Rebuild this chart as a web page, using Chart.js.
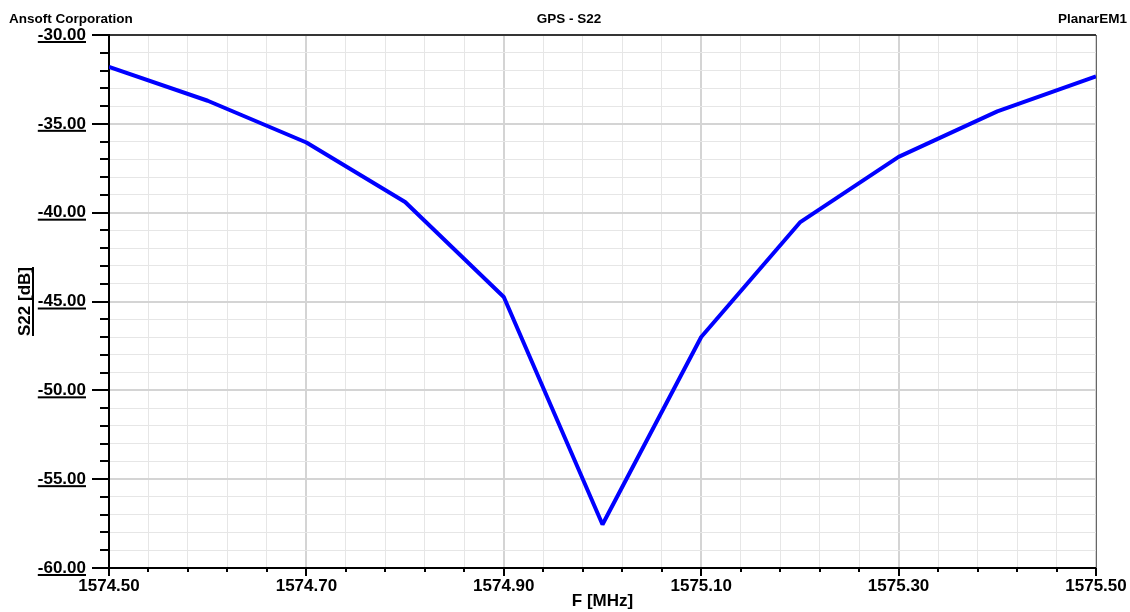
<!DOCTYPE html>
<html>
<head>
<meta charset="utf-8">
<script src="https://cdn.jsdelivr.net/npm/chart.js@4.4.1/dist/chart.umd.min.js"></script>
<style>
  html, body { margin: 0; padding: 0; background: #fff; }
  #wrap { width: 1130px; height: 612px; }
</style>
</head>
<body>
<div id="wrap"><canvas id="s22Chart" width="1130" height="612"></canvas></div>
<script>
// datos
const freqs = [1574.5, 1574.6, 1574.7, 1574.8, 1574.9, 1575.0, 1575.1, 1575.2, 1575.3, 1575.4, 1575.5];
const s22 = [-31.80, -33.70, -36.05, -39.40, -44.75, -57.55, -47.00, -40.55, -36.86, -34.30, -32.33];
const xTickLabels = ['1574.50', '1574.70', '1574.90', '1575.10', '1575.30', '1575.50'];
const yTickLabels = ['-60.00', '-55.00', '-50.00', '-45.00', '-40.00', '-35.00', '-30.00'];
const headerLeft = 'Ansoft Corporation';
const headerTitle = 'GPS - S22';
const headerRight = 'PlanarEM1';

const FONT = '"Liberation Sans", Arial, sans-serif';

// cabecera, bordes, marcas y subrayados
const frame = {
    id: 'frame',
    afterDraw(chart) {
        const { ctx, chartArea: a, scales: { x, y } } = chart;
        ctx.save();

        ctx.fillStyle = '#000';
        ctx.font = 'bold 13.5px ' + FONT;
        ctx.textBaseline = 'alphabetic';
        ctx.textAlign = 'left';
        ctx.fillText(headerLeft, 9, 22.5);
        ctx.textAlign = 'center';
        ctx.fillText(headerTitle, 569, 22.5);
        ctx.textAlign = 'right';
        ctx.fillText(headerRight, 1127, 22.5);

        // borde superior y derecho
        ctx.strokeStyle = '#000';
        ctx.lineWidth = 1.5;
        ctx.beginPath();
        ctx.moveTo(a.left - 17, a.top);
        ctx.lineTo(a.right, a.top);
        ctx.stroke();
        ctx.strokeStyle = '#666';
        ctx.lineWidth = 1;
        ctx.beginPath();
        ctx.moveTo(a.right + 0.5, a.top);
        ctx.lineTo(a.right + 0.5, a.bottom);
        ctx.stroke();

        // marcas eje Y
        ctx.strokeStyle = '#000';
        ctx.lineWidth = 2;
        y.ticks.forEach((t, i) => {
            const py = Math.round(y.getPixelForValue(t.value));
            const len = i % 5 === 0 ? 17 : 9;
            ctx.beginPath();
            ctx.moveTo(a.left - len, py);
            ctx.lineTo(a.left, py);
            ctx.stroke();
        });
        // marcas eje X
        x.ticks.forEach((t, i) => {
            const px = Math.round(x.getPixelForValue(t.value));
            const len = i % 5 === 0 ? 8 : 4;
            ctx.beginPath();
            ctx.moveTo(px, a.bottom);
            ctx.lineTo(px, a.bottom + len);
            ctx.stroke();
        });

        // subrayado de etiquetas Y
        ctx.font = 'bold 17px ' + FONT;
        const rightX = a.left - 23;
        y.ticks.forEach((t, i) => {
            if (i % 5 !== 0) return;
            const w = ctx.measureText(yTickLabels[i / 5]).width;
            const py = y.getPixelForValue(t.value);
            ctx.fillRect(rightX - w, py + 6, w, 2);
        });
        // subrayado del titulo Y
        const tw = ctx.measureText(y.options.title.text).width;
        const cy = (a.top + a.bottom) / 2;
        ctx.fillRect(32, cy - tw / 2, 2, tw);

        ctx.restore();
    }
};

const ctx = document.getElementById('s22Chart').getContext('2d');
new Chart(ctx, {
    type: 'line',
    data: {
        datasets: [{
            label: 'S22',
            data: freqs.map((f, i) => ({ x: f, y: s22[i] })),
            borderColor: '#0000ff',
            borderWidth: 4,
            borderJoinStyle: 'bevel',
            pointRadius: 0,
            tension: 0,
            fill: false
        }]
    },
    options: {
        responsive: false,
        animation: false,
        devicePixelRatio: 1,
        layout: { padding: { top: 35, right: 34, left: 0, bottom: 0 } },
        plugins: {
            legend: { display: false },
            tooltip: { enabled: false }
        },
        scales: {
            x: {
                type: 'linear',
                min: 1574.5,
                max: 1575.5,
                afterFit: (s) => { s.height = 44; s.paddingLeft = 0; s.paddingRight = 0; },
                border: { color: '#000', width: 2 },
                grid: {
                    drawTicks: false,
                    color: (c) => c.index % 5 === 0 ? '#d4d4d4' : '#e6e6e6',
                    lineWidth: (c) => c.index % 5 === 0 ? 2 : 1
                },
                ticks: {
                    stepSize: 0.04,
                    maxTicksLimit: 100,
                    autoSkip: false,
                    maxRotation: 0,
                    padding: 8,
                    color: '#000',
                    font: { family: FONT, size: 17, weight: 'bold' },
                    callback: (v, i) => i % 5 === 0 ? xTickLabels[i / 5] : ''
                },
                title: {
                    display: true,
                    text: 'F [MHz]',
                    color: '#000',
                    padding: { top: 0, bottom: 0 },
                    font: { family: FONT, size: 17, weight: 'bold' }
                }
            },
            y: {
                min: -60,
                max: -30,
                afterFit: (s) => { s.width = 109; },
                border: { color: '#000', width: 2 },
                grid: {
                    drawTicks: false,
                    color: (c) => c.index % 5 === 0 ? '#d4d4d4' : '#e6e6e6',
                    lineWidth: (c) => c.index % 5 === 0 ? 2 : 1
                },
                ticks: {
                    stepSize: 1,
                    maxTicksLimit: 100,
                    autoSkip: false,
                    padding: 23,
                    color: '#000',
                    font: { family: FONT, size: 17, weight: 'bold' },
                    callback: (v, i) => i % 5 === 0 ? yTickLabels[i / 5] : ''
                },
                title: {
                    display: true,
                    text: 'S22 [dB]',
                    color: '#000',
                    padding: { top: 15, bottom: 0 },
                    font: { family: FONT, size: 17, weight: 'bold' }
                }
            }
        }
    },
    plugins: [frame]
});
</script>
</body>
</html>
